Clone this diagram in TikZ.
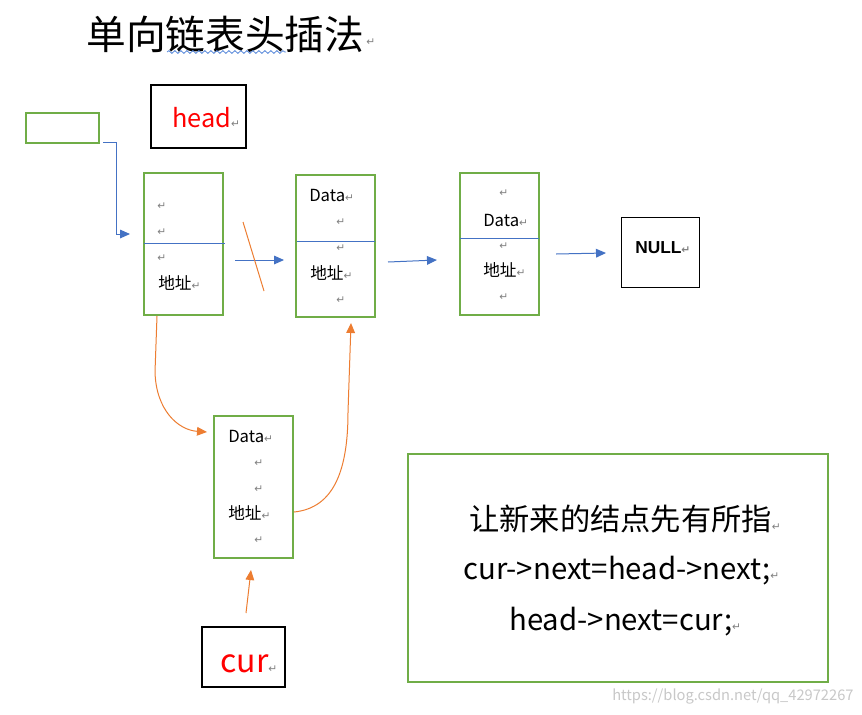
\documentclass[tikz,border=0pt]{standalone}
\usepackage{fontspec}
\setmainfont{Noto Sans CJK SC}
\newfontfamily\retfam{DejaVu Sans}
\newfontfamily\nullfam{Liberation Sans}
\usetikzlibrary{arrows.meta,fit,decorations.pathmorphing}
\definecolor{ggreen}{HTML}{70AD47}
\definecolor{bblue}{HTML}{4472C4}
\definecolor{oorange}{HTML}{ED7D31}
\definecolor{rred}{HTML}{FF0000}
\definecolor{retgray}{HTML}{808080}
\definecolor{wmgray}{HTML}{C8C8C8}
\definecolor{squig}{HTML}{5B8BDB}
\newcommand\ret{{\retfam\fontsize{8}{8}\selectfont\textcolor{retgray}{↵}}}
\newcommand\fsz[1]{\fontsize{#1}{#1}\selectfont}
\tikzset{
  gbox/.style={draw=ggreen, line width=1.3pt, inner sep=0pt},
  kbox/.style={draw=black, line width=1.5pt, inner sep=0pt},
  thinbox/.style={draw=black, line width=0.75pt, inner sep=0pt},
  txt/.style={anchor=west, inner sep=0pt},
  bline/.style={draw=bblue, line width=0.75pt},
  oline/.style={draw=oorange, line width=0.75pt},
  barrow/.style={bline, -{Triangle[length=7.5pt,width=6.5pt]}},
  oarrow/.style={oline, -{Triangle[length=7.5pt,width=6.5pt]}},
  nodetext/.style={txt, font=\fsz{12.5}},
}
\begin{document}
\begin{tikzpicture}[x=0.75pt,y=-0.75pt]
\fill[white] (0,0) rectangle (862,714);
\useasboundingbox (0,0) rectangle (862,714);

% title
\node[anchor=base west, inner sep=0pt, font=\fsz{29.8}] (title) at (86,49) {单向链表头插法};
\node[txt] (titleret) at (366,42) {\ret};
\draw[squig, line width=0.6pt, decorate, decoration={snake, amplitude=1pt, segment length=4.5pt}] (167,52) -- (286,52);

% small green box and head box
\node[gbox, fit={(26,113)(99,143)}] (gsmall) {};
\node[kbox, fit={(151,85)(246,148)}] (headbox) {};
\node[anchor=base west, inner sep=0pt, font=\fsz{19}, text=rred] (headtxt) at (172,127) {head\ret};

% list nodes
\node[gbox, fit={(144,173)(223,315)}] (n1) {};
\node[gbox, fit={(296,175)(375,317)}] (n2) {};
\node[gbox, fit={(460,173)(539,315)}] (n3) {};
\node[thinbox, fit={(621,217)(699,287)}] (nullbox) {};
\node[gbox, fit={(214,416)(293,558)}] (n4) {};
\node[kbox, fit={(202,627)(285,687)}] (curbox) {};
\node[gbox, fit={(408,454)(828,682)}] (codebox) {};

% separators
\draw[bline] (144,243) -- (225,243);
\draw[bline] (297,241) -- (375,241);
\draw[bline] (460,238) -- (539,238);

% node 1 text
\node[txt] (n1r1) at (157,206) {\ret};
\node[txt] (n1r2) at (157,232) {\ret};
\node[txt] (n1r3) at (157,258) {\ret};
\node[nodetext] (n1addr) at (158,283) {地址\ret};

% node 2 text
\node[nodetext] (n2data) at (309,195) {Data\ret};
\node[txt] (n2r1) at (336,222) {\ret};
\node[txt] (n2r2) at (336,248) {\ret};
\node[nodetext] (n2addr) at (310,273) {地址\ret};
\node[txt] (n2r3) at (336,300) {\ret};

% node 3 text
\node[txt] (n3r1) at (499,193) {\ret};
\node[nodetext] (n3data) at (483,220) {Data\ret};
\node[txt] (n3r2) at (499,246) {\ret};
\node[nodetext] (n3addr) at (483,270) {地址\ret};
\node[txt] (n3r3) at (499,297) {\ret};

% NULL
\node[txt, font={\nullfam\bfseries\fsz{13}}] (nulltxt) at (635,248) {NULL\ret};

% node 4 text
\node[nodetext] (n4data) at (228,436) {Data\ret};
\node[txt] (n4r1) at (254,463) {\ret};
\node[txt] (n4r2) at (254,489) {\ret};
\node[nodetext] (n4addr) at (228,513) {地址\ret};
\node[txt] (n4r3) at (254,540) {\ret};

% cur
\node[anchor=base west, inner sep=0pt, font=\fsz{24}, text=rred] (curtxt) at (220,672) {cur\ret};

% code box text
\node[txt, font=\fsz{22.7}] (c1) at (469,519) {让新来的结点先有所指\ret};
\node[anchor=base west, inner sep=0pt, font=\fsz{22}] (c2) at (463,579) {cur->next=head->next;\ret};
\node[anchor=base west, inner sep=0pt, font=\fsz{22}] (c3) at (509,630) {head->next=cur;\ret};

% watermark
\node[anchor=base west, inner sep=0pt, font=\fsz{11}, text=wmgray] (wm) at (612,700) {https://blog.csdn.net/qq\_42972267};

% connectors
\coordinate (gstart) at (103,142);
\coordinate (gbend) at (116,234);
\coordinate (n1in) at (130,234);
\draw[barrow] (gstart) -| (gbend) -- (n1in);

\coordinate (a1s) at (235,260);
\coordinate (a1e) at (284,260);
\draw[barrow] (a1s) -- (a1e);
\coordinate (a2s) at (388,262);
\coordinate (a2e) at (437,260);
\draw[barrow] (a2s) -- (a2e);
\coordinate (a3s) at (556,254);
\coordinate (a3e) at (606,253);
\draw[barrow] (a3s) -- (a3e);

% cut mark
\coordinate (cuts) at (243,222);
\coordinate (cute) at (264,291);
\draw[oline] (cuts) -- (cute);

% orange curves
\coordinate (o1s) at (157,316);
\coordinate (o1e) at (207,432);
\draw[oarrow] (o1s) -- (155,372) .. controls (156,410) and (178,430) .. (o1e);
\coordinate (o2s) at (294,512);
\coordinate (o2e) at (351,323);
\draw[oarrow] (o2s) .. controls (334,508) and (348,470) .. (348,412) -- (o2e);
\coordinate (o3s) at (246,613);
\coordinate (o3e) at (251,570);
\draw[oarrow] (o3s) -- (o3e);
\end{tikzpicture}
\end{document}
